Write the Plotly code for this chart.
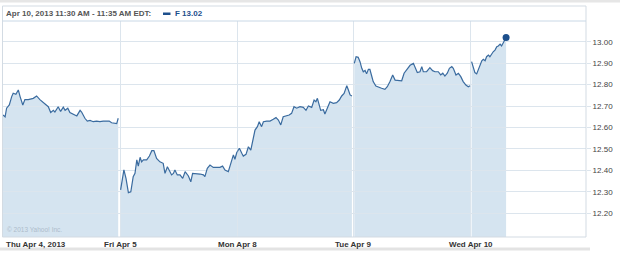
import plotly.graph_objects as go

# ---------------- data (minutes after 9:30 open, price) ----------------
day_labels = ["Thu Apr 4, 2013", "Fri Apr 5", "Mon Apr 8", "Tue Apr 9", "Wed Apr 10"]

thu_min = [0, 7, 12, 21, 29, 34, 43, 51, 57, 66, 73, 84, 101, 112, 123, 140, 151, 159, 168, 173,
           184, 192, 201, 207, 216, 223, 234, 246, 257, 262, 273, 281, 290, 301, 312, 323, 334,
           346, 354, 362, 373, 379, 384]
thu_px = [12.658, 12.65, 12.69, 12.705, 12.744, 12.76, 12.755, 12.775, 12.744, 12.705, 12.73,
          12.73, 12.736, 12.747, 12.73, 12.71, 12.697, 12.67, 12.68, 12.672, 12.697, 12.675,
          12.695, 12.68, 12.69, 12.67, 12.663, 12.654, 12.68, 12.672, 12.643, 12.63, 12.633,
          12.627, 12.63, 12.627, 12.63, 12.632, 12.63, 12.622, 12.62, 12.618, 12.643]

fri_min = [2, 13, 20, 28, 36, 44, 50, 56, 61, 67, 72, 78, 89, 98, 106, 113, 122, 133, 144, 150,
           158, 164, 172, 178, 183, 191, 200, 209, 217, 228, 236, 242, 250, 258, 267, 278, 283,
           291, 300, 311, 322, 333, 342, 350, 361, 369, 378, 383, 390]
fri_px = [12.309, 12.402, 12.363, 12.296, 12.30, 12.371, 12.386, 12.449, 12.42, 12.461, 12.44,
          12.449, 12.449, 12.467, 12.492, 12.492, 12.456, 12.44, 12.433, 12.386, 12.417, 12.402,
          12.379, 12.386, 12.402, 12.379, 12.379, 12.363, 12.394, 12.374, 12.347, 12.386,
          12.386, 12.383, 12.383, 12.379, 12.371, 12.41, 12.425, 12.414, 12.414, 12.414,
          12.42, 12.402, 12.394, 12.43, 12.472, 12.452, 12.487]

mon_min = [1, 8, 16, 21, 30, 38, 46, 54, 60, 68, 74, 82, 88, 99, 110, 121, 130, 138, 146, 154,
           166, 174, 182, 190, 199, 210, 221, 230, 238, 249, 257, 263, 268, 274, 279, 288, 293,
           301, 310, 321, 332, 341, 349, 357, 366, 371, 377, 383]
mon_px = [12.487, 12.503, 12.48, 12.467, 12.475, 12.51, 12.495, 12.557, 12.588, 12.604, 12.627,
          12.604, 12.627, 12.63, 12.63, 12.638, 12.646, 12.635, 12.612, 12.65, 12.653, 12.658,
          12.666, 12.697, 12.69, 12.697, 12.694, 12.68, 12.70, 12.694, 12.728, 12.72, 12.736,
          12.705, 12.68, 12.683, 12.663, 12.69, 12.72, 12.713, 12.716, 12.728, 12.747, 12.759,
          12.795, 12.776, 12.752, 12.747]

tue_min = [1, 7, 14, 20, 26, 31, 37, 42, 48, 53, 59, 64, 73, 81, 92, 103, 111, 120, 129, 137,
           148, 159, 167, 176, 187, 198, 203, 211, 220, 226, 231, 242, 253, 262, 270, 281, 289,
           296, 303, 311, 318, 326, 331, 340, 348, 356, 364, 373, 381, 387]
tue_px = [12.899, 12.93, 12.927, 12.907, 12.876, 12.86, 12.866, 12.85, 12.871, 12.871, 12.84,
          12.814, 12.793, 12.79, 12.783, 12.778, 12.79, 12.814, 12.845, 12.821, 12.821, 12.818,
          12.853, 12.868, 12.89, 12.899, 12.884, 12.856, 12.86, 12.884, 12.86, 12.86, 12.879,
          12.865, 12.86, 12.86, 12.845, 12.853, 12.84, 12.853, 12.876, 12.884, 12.876, 12.845,
          12.853, 12.837, 12.814, 12.798, 12.79, 12.795]

wed_min = [2, 8, 13, 19, 24, 30, 36, 41, 47, 52, 58, 63, 69, 74, 80, 86, 91, 97, 102, 108, 113, 117]
wed_px = [12.907, 12.884, 12.856, 12.85, 12.87, 12.89, 12.911, 12.918, 12.911, 12.93, 12.938,
          12.93, 12.946, 12.953, 12.961, 12.977, 12.98, 12.989, 12.98, 12.995, 13.005, 13.02]

y_ticks = [12.2, 12.3, 12.4, 12.5, 12.6, 12.7, 12.8, 12.9, 13.0]
symbol = "F"
header = "Apr 10, 2013 11:30 AM - 11:35 AM EDT:"

days_min = [thu_min, fri_min, mon_min, tue_min, wed_min]
days_px = [thu_px, fri_px, mon_px, tue_px, wed_px]
SESSION = 390.0

# ---------------- style ----------------
FILL = "#d5e4f0"
LINE = "#3a6b9f"
GRID = "#dce5ed"
FONT = "Liberation Sans, Arial, sans-serif"
XR = [0, 4.983]
YR = [12.0895, 13.0965]

fig = go.Figure()
for i, (mins, px) in enumerate(zip(days_min, days_px)):
    xs = [i + m / SESSION for m in mins]
    fig.add_trace(go.Scatter(x=xs, y=px, mode="lines", line=dict(width=0, color=FILL),
                             fill="tozeroy", fillcolor=FILL, xaxis="x", yaxis="y",
                             hoverinfo="skip", showlegend=False))
for i, (mins, px) in enumerate(zip(days_min, days_px)):
    xs = [i + m / SESSION for m in mins]
    fig.add_trace(go.Scatter(x=xs, y=px, mode="lines", line=dict(width=1.2, color=LINE),
                             xaxis="x2", yaxis="y2", showlegend=False))
last_x = len(days_min) - 1 + wed_min[-1] / SESSION
fig.add_trace(go.Scatter(x=[last_x], y=[wed_px[-1]], mode="markers",
                         marker=dict(size=7, color="#1d4f8c"), xaxis="x2", yaxis="y2",
                         showlegend=False))

fig.update_layout(
    width=625, height=254, autosize=False,
    margin=dict(l=3, r=39, t=21, b=17),
    paper_bgcolor="white", plot_bgcolor="rgba(0,0,0,0)",
    font=dict(family=FONT, size=8, color="#444"),
    xaxis=dict(range=XR, visible=False, domain=[0, 1]),
    yaxis=dict(range=YR, visible=False, domain=[0, 1]),
    xaxis2=dict(range=XR, anchor="y2", domain=[0, 1], tickvals=list(range(len(day_labels))),
                showticklabels=False, showgrid=True, gridcolor=GRID, gridwidth=1,
                zeroline=False, ticks=""),
    yaxis2=dict(range=YR, anchor="x2", domain=[0, 1], side="right", tickvals=y_ticks,
                ticktext=[f"{v:.2f}" for v in y_ticks], showgrid=True, gridcolor=GRID,
                zeroline=False, ticks="outside", ticklen=4, tickcolor=GRID,
                tickfont=dict(family=FONT, size=8, color="#444")),
)

# x labels
for i, lab in enumerate(day_labels):
    fig.add_annotation(x=i, xref="x2", y=0, yref="paper", yanchor="top", yshift=-1,
                       xanchor="left" if i == 0 else "center", xshift=1 if i == 0 else 0,
                       text=f"<b>{lab}</b>", showarrow=False,
                       font=dict(family=FONT, size=8, color="#333"))

# header
fig.add_annotation(x=0, xref="paper", y=(237 - 13.5) / 216, yref="paper", xanchor="left",
                   yanchor="middle", xshift=1, showarrow=False,
                   text=f"<b>{header}</b>", font=dict(family=FONT, size=8, color="#555"))
fig.add_annotation(x=(171 - 3) / 583, xref="paper", y=(237 - 13.5) / 216, yref="paper",
                   xanchor="left", yanchor="middle", xshift=2, showarrow=False,
                   text=f"<b>{symbol} {wed_px[-1]:.2f}</b>",
                   font=dict(family=FONT, size=8, color="#1d4f8c"))
# watermark
fig.add_annotation(x=0, xref="paper", y=(237 - 229) / 216, yref="paper", xanchor="left",
                   yanchor="middle", xshift=2, showarrow=False, text="© 2013 Yahoo! Inc.",
                   font=dict(family=FONT, size=6.5, color="#aebccb"))

def px_x(p):
    return (p - 3) / 583

def px_y(p):
    return (237 - p) / 216

shapes = [
    # legend swatch
    dict(type="rect", xref="paper", yref="paper", x0=px_x(163), x1=px_x(170.5),
         y0=px_y(15), y1=px_y(12.5), fillcolor="#1d4f8c", line=dict(width=0)),
    # outer box
    dict(type="rect", xref="paper", yref="paper", x0=px_x(2.5), x1=px_x(586),
         y0=px_y(237), y1=px_y(6), line=dict(color="#d3dbe3", width=1)),
    # header separator
    dict(type="line", xref="paper", yref="paper", x0=px_x(2.5), x1=px_x(586),
         y0=1, y1=1, line=dict(color="#c9d8e6", width=1)),
    # top gray bar
    dict(type="rect", xref="paper", yref="paper", x0=px_x(0), x1=px_x(620),
         y0=px_y(2.5), y1=px_y(0), fillcolor="#e6e6e6", line=dict(width=0)),
    # bottom gray bar
    dict(type="rect", xref="paper", yref="paper", x0=px_x(0), x1=px_x(590),
         y0=px_y(250.5), y1=px_y(247.5), fillcolor="#e3e3e3", line=dict(width=0)),
]
fig.update_layout(shapes=shapes)

fig.write_html("out.html", config={"displayModeBar": False})
